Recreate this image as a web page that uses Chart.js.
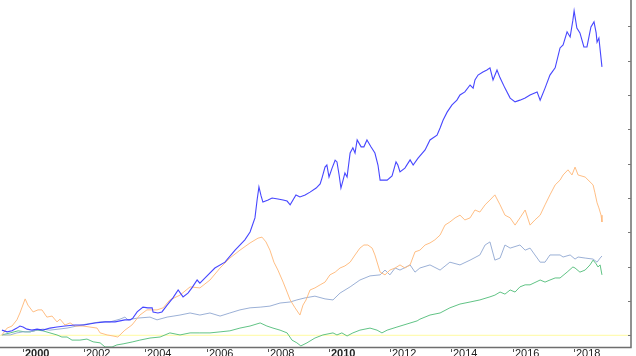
<!DOCTYPE html>
<html>
<head>
<meta charset="utf-8">
<script src="https://cdn.jsdelivr.net/npm/chart.js@4"></script>
<style>
    html, body { margin: 0; padding: 0; background: #fff; }
    #wrap { width: 636px; height: 356px; position: relative; }
</style>
</head>
<body>
<div id="wrap"><canvas id="growthChart"></canvas></div>
<script>
// [year, value] pairs
const blueSeries = [
    [1999.31, 15], [1999.48, 10], [1999.64, 13], [1999.80, 21], [1999.90, 27], [2000.00, 24],
    [2000.13, 18], [2000.29, 15], [2000.46, 18], [2000.65, 15], [2000.88, 21], [2001.11, 24],
    [2001.37, 27], [2001.70, 30], [2001.99, 30], [2002.35, 36], [2002.68, 39], [2003.01, 39],
    [2003.33, 45], [2003.50, 45], [2003.59, 50], [2003.73, 68], [2003.92, 82], [2004.08, 80],
    [2004.22, 80], [2004.25, 68], [2004.41, 65], [2004.54, 68], [2004.71, 88], [2004.90, 109],
    [2005.07, 132], [2005.23, 112], [2005.39, 123], [2005.52, 138], [2005.69, 161], [2005.78, 152],
    [2005.95, 167], [2006.27, 196], [2006.60, 213], [2006.93, 248], [2007.25, 278], [2007.42, 301],
    [2007.58, 342], [2007.65, 394], [2007.71, 432], [2007.78, 406], [2007.84, 388], [2008.01, 394],
    [2008.14, 400], [2008.33, 397], [2008.50, 394], [2008.63, 391], [2008.73, 380], [2008.92, 409],
    [2009.05, 403], [2009.22, 409], [2009.38, 417], [2009.58, 429], [2009.71, 441], [2009.77, 458],
    [2009.87, 490], [2009.93, 496], [2010.00, 461], [2010.10, 487], [2010.20, 510], [2010.26, 505],
    [2010.33, 467], [2010.39, 429], [2010.46, 452], [2010.52, 473], [2010.59, 461], [2010.69, 531],
    [2010.78, 546], [2010.85, 531], [2010.92, 569], [2011.05, 549], [2011.14, 549], [2011.24, 569],
    [2011.37, 549], [2011.50, 531], [2011.60, 496], [2011.67, 452], [2011.90, 452], [2012.06, 464],
    [2012.19, 505], [2012.25, 496], [2012.32, 476], [2012.48, 487], [2012.65, 511], [2012.75, 496],
    [2012.91, 516], [2013.14, 540], [2013.30, 569], [2013.53, 583], [2013.63, 604], [2013.73, 627],
    [2013.86, 650], [2014.02, 671], [2014.18, 685], [2014.28, 700], [2014.44, 709], [2014.61, 729],
    [2014.71, 720], [2014.77, 744], [2014.87, 758], [2015.03, 767], [2015.16, 773], [2015.26, 779],
    [2015.36, 744], [2015.49, 773], [2015.59, 750], [2015.75, 720], [2015.92, 691], [2016.08, 680],
    [2016.24, 685], [2016.41, 691], [2016.57, 700], [2016.80, 709], [2016.90, 685], [2017.06, 720],
    [2017.22, 758], [2017.39, 779], [2017.55, 837], [2017.65, 846], [2017.78, 884], [2017.88, 869],
    [2017.97, 918], [2018.01, 945], [2018.10, 895], [2018.20, 881], [2018.33, 840], [2018.43, 840],
    [2018.56, 898], [2018.66, 913], [2018.73, 881], [2018.76, 854], [2018.82, 866], [2018.92, 782]
];

const orangeSeries = [
    [1999.31, 1], [1999.48, 21], [1999.64, 27], [1999.80, 45], [1999.90, 65], [2000.07, 106],
    [2000.16, 88], [2000.33, 68], [2000.49, 74], [2000.62, 74], [2000.78, 53], [2000.95, 56],
    [2001.11, 39], [2001.21, 47], [2001.37, 30], [2001.54, 36], [2001.70, 27], [2001.96, 27],
    [2002.19, 24], [2002.42, 21], [2002.52, 7], [2002.75, 1], [2002.94, -2], [2003.10, -5],
    [2003.33, 15], [2003.56, 30], [2003.82, 59], [2004.05, 74], [2004.38, 74], [2004.58, 80],
    [2004.80, 103], [2005.13, 117], [2005.46, 141], [2005.78, 138], [2006.11, 161], [2006.44, 196],
    [2006.76, 225], [2007.09, 248], [2007.42, 269], [2007.68, 283], [2007.81, 286], [2007.94, 272],
    [2008.07, 248], [2008.20, 213], [2008.33, 190], [2008.50, 155], [2008.63, 126], [2008.73, 103],
    [2008.89, 80], [2009.05, 59], [2009.15, 88], [2009.25, 103], [2009.38, 132], [2009.54, 138],
    [2009.71, 147], [2009.87, 155], [2010.03, 176], [2010.20, 184], [2010.36, 196], [2010.52, 202],
    [2010.69, 213], [2010.85, 234], [2011.01, 254], [2011.14, 263], [2011.27, 263], [2011.41, 254],
    [2011.50, 234], [2011.67, 184], [2011.83, 176], [2011.99, 190], [2012.16, 196], [2012.32, 205],
    [2012.48, 196], [2012.65, 205], [2012.81, 243], [2012.97, 248], [2013.14, 263], [2013.30, 269],
    [2013.46, 278], [2013.63, 292], [2013.79, 321], [2013.95, 330], [2014.12, 342], [2014.28, 350],
    [2014.44, 336], [2014.61, 342], [2014.77, 365], [2014.93, 359], [2015.10, 380], [2015.26, 394],
    [2015.42, 409], [2015.59, 380], [2015.75, 350], [2015.92, 342], [2016.08, 321], [2016.24, 342],
    [2016.41, 365], [2016.57, 321], [2016.73, 336], [2016.90, 350], [2017.06, 380], [2017.22, 409],
    [2017.39, 438], [2017.55, 452], [2017.65, 467], [2017.81, 482], [2017.94, 467], [2018.04, 490],
    [2018.14, 467], [2018.37, 461], [2018.63, 438], [2018.69, 415], [2018.76, 386], [2018.82, 371],
    [2018.89, 350], [2018.92, 330]
];

const graySeries = [
    [1999.31, 1], [1999.58, 1], [1999.80, 7], [2000.00, 10], [2000.23, 10], [2000.46, 15],
    [2000.65, 18], [2000.88, 15], [2001.44, 21], [2001.76, 27], [2002.09, 33], [2002.52, 39],
    [2002.84, 39], [2003.17, 47], [2003.33, 53], [2003.43, 45], [2003.73, 50], [2004.15, 53],
    [2004.38, 45], [2004.71, 53], [2005.13, 59], [2005.46, 65], [2005.78, 59], [2006.11, 65],
    [2006.44, 56], [2006.76, 65], [2007.09, 74], [2007.42, 80], [2007.75, 82], [2008.07, 85],
    [2008.40, 94], [2008.73, 97], [2008.95, 103], [2009.22, 109], [2009.54, 114], [2009.87, 106],
    [2010.13, 103], [2010.36, 123], [2010.69, 141], [2011.01, 161], [2011.34, 173], [2011.67, 176],
    [2011.83, 190], [2011.99, 176], [2012.16, 196], [2012.32, 190], [2012.65, 205], [2012.81, 184],
    [2012.97, 196], [2013.30, 205], [2013.63, 190], [2013.95, 213], [2014.28, 205], [2014.61, 219],
    [2014.93, 234], [2015.10, 263], [2015.26, 272], [2015.42, 219], [2015.59, 225], [2015.75, 263],
    [2015.92, 254], [2016.24, 263], [2016.41, 248], [2016.57, 254], [2016.73, 234], [2016.90, 213],
    [2017.06, 213], [2017.22, 234], [2017.55, 234], [2017.65, 228], [2017.88, 234], [2018.04, 222],
    [2018.14, 228], [2018.37, 225], [2018.63, 222], [2018.76, 213], [2018.86, 225], [2018.92, 231]
];

const greenSeries = [
    [1999.31, 1], [1999.58, 7], [1999.84, 13], [2000.07, 10], [2000.23, 10], [2000.46, 15],
    [2000.65, 13], [2000.88, 7], [2001.11, 1], [2001.27, -5], [2001.44, -5], [2001.60, -14],
    [2001.86, -14], [2002.09, -11], [2002.29, -19], [2002.52, -22], [2002.68, -34], [2002.91, -34],
    [2003.07, -28], [2003.27, -25], [2003.59, -19], [2003.82, -14], [2004.15, -8], [2004.48, -5],
    [2004.80, 7], [2005.13, 1], [2005.46, 7], [2005.78, 7], [2006.11, 7], [2006.44, 10],
    [2006.76, 13], [2007.09, 21], [2007.42, 27], [2007.75, 36], [2007.97, 27], [2008.17, 21],
    [2008.40, 15], [2008.63, 7], [2008.79, -14], [2008.95, -22], [2009.08, -31], [2009.28, -22],
    [2009.54, -8], [2009.80, 1], [2010.13, 7], [2010.26, 1], [2010.42, 7], [2010.59, -2],
    [2010.78, 7], [2011.01, 15], [2011.34, 21], [2011.57, 15], [2011.73, 7], [2011.90, 15],
    [2012.22, 24], [2012.55, 33], [2012.88, 42], [2012.97, 47], [2013.30, 59], [2013.63, 65],
    [2013.95, 80], [2014.28, 91], [2014.61, 97], [2014.93, 103], [2015.26, 112], [2015.42, 117],
    [2015.59, 126], [2015.75, 120], [2015.92, 132], [2016.08, 126], [2016.24, 141], [2016.41, 147],
    [2016.57, 147], [2016.90, 161], [2017.06, 155], [2017.22, 161], [2017.39, 167], [2017.55, 167],
    [2017.78, 184], [2017.97, 199], [2018.04, 196], [2018.20, 184], [2018.37, 190], [2018.53, 205],
    [2018.63, 219], [2018.73, 208], [2018.79, 199], [2018.86, 205], [2018.92, 176]
];

const yearTicks = [2000, 2002, 2004, 2006, 2008, 2010, 2012, 2014, 2016, 2018];
const valueTicks = [0, 100, 200, 300, 400, 500, 600, 700, 800, 900];
const baseline = 0;

const xMin = 1999.248, xMax = 2019.869;
const yMin = -34.1, yMax = 976.7;

const toPoints = series => series.map(p => ({ x: p[0], y: p[1] }));

// axis lines, ticks and year labels, placed through the chart's scales
const axesPlugin = {
    id: 'axesPlugin',
    afterDraw(chart) {
        const c = chart.ctx;
        const xs = chart.scales.x;
        const ys = chart.scales.y;
        const area = chart.chartArea;

        c.save();
        c.strokeStyle = '#6e6e6e';
        c.lineWidth = 1.5;
        c.beginPath();
        c.moveTo(0, area.bottom + 0.5);
        c.lineTo(area.right + 0.75, area.bottom + 0.5);
        c.moveTo(area.right, 0);
        c.lineTo(area.right, area.bottom + 0.5);
        c.stroke();

        c.lineWidth = 1;
        c.strokeStyle = '#777';
        valueTicks.forEach(v => {
            const y = Math.round(ys.getPixelForValue(v)) + 0.5;
            c.beginPath();
            c.moveTo(area.right - 3, y);
            c.lineTo(area.right, y);
            c.stroke();
        });

        c.fillStyle = '#222';
        c.textBaseline = 'top';
        c.textAlign = 'left';
        yearTicks.forEach(yr => {
            const x = Math.round(xs.getPixelForValue(yr)) + 0.5;
            c.strokeStyle = '#555';
            c.beginPath();
            c.moveTo(x, area.bottom + 2);
            c.lineTo(x, area.bottom + 5);
            c.stroke();
            c.font = (yr % 10 === 0 ? 'bold ' : '') + '11px "Liberation Sans", Arial, sans-serif';
            c.fillText(String(yr), x + 1.5, area.bottom + 1);
        });
        c.restore();
    }
};

document.addEventListener('DOMContentLoaded', function() {
    const ctx = document.getElementById('growthChart').getContext('2d');

    const line = (data, color, width) => ({
        data: data,
        borderColor: color,
        borderWidth: width,
        pointRadius: 0,
        tension: 0,
        fill: false
    });

    new Chart(ctx, {
        type: 'line',
        data: {
            datasets: [
                line(toPoints(blueSeries), 'rgba(50, 50, 255, 0.9)', 1.1),
                line(toPoints(orangeSeries), 'rgba(255, 186, 125, 0.95)', 1),
                line(toPoints(graySeries), 'rgba(150, 172, 212, 0.95)', 1),
                line(toPoints(greenSeries), 'rgba(80, 188, 120, 0.9)', 1),
                line([{ x: xMin, y: baseline }, { x: xMax, y: baseline }], 'rgba(255, 250, 160, 1)', 1)
            ]
        },
        options: {
            responsive: true,
            maintainAspectRatio: false,
            animation: false,
            layout: { padding: { left: 0, top: 0, right: 5, bottom: 9 } },
            plugins: { legend: { display: false }, tooltip: { enabled: false } },
            scales: {
                x: { type: 'linear', display: false, min: xMin, max: xMax },
                y: { type: 'linear', display: false, min: yMin, max: yMax }
            }
        },
        plugins: [axesPlugin]
    });
});
</script>
</body>
</html>
